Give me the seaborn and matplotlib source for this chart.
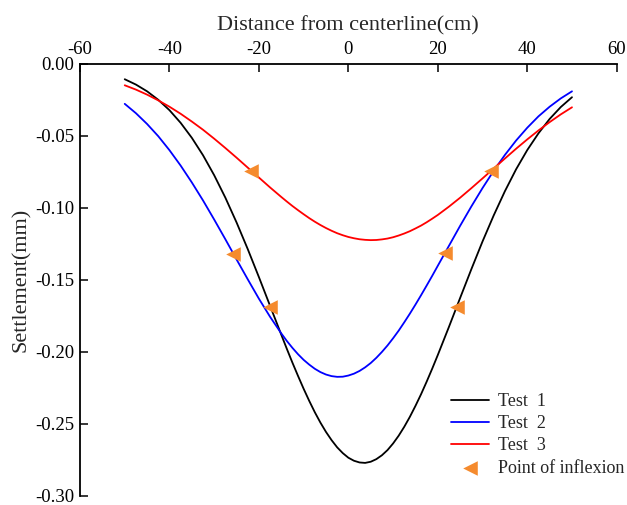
import pandas as pd
import matplotlib
matplotlib.use('Agg')
import matplotlib.pyplot as plt
import seaborn as sns

# distance from centerline (cm); denser around the trough
distance = [-50, -47.5, -45, -42.5, -40, -37.5, -35, -32.5, -30, -27.5, -25, -22.5, -20, -17.5, -15,
            -13.75, -12.5, -11.25, -10, -8.75, -7.5, -6.25, -5, -3.75, -2.5, -1.25, 0, 1.25, 2.5, 3.75,
            5, 6.25, 7.5, 8.75, 10, 11.25, 12.5, 13.75, 15, 16.25, 17.5, 18.75, 20,
            22.5, 25, 27.5, 30, 32.5, 35, 37.5, 40, 42.5, 45, 47.5, 50]

test1 = [-0.0106, -0.0143, -0.0190, -0.0249, -0.0321, -0.0409, -0.0513, -0.0634, -0.0773, -0.0929,
         -0.1101, -0.1286, -0.1481, -0.1681, -0.1881,
         -0.1980, -0.2076, -0.2168, -0.2257, -0.2341, -0.2420, -0.2492, -0.2557, -0.2614, -0.2664,
         -0.2704, -0.2736, -0.2757, -0.2769, -0.2772, -0.2764, -0.2746, -0.2719, -0.2683, -0.2637,
         -0.2583, -0.2521, -0.2452, -0.2376, -0.2295, -0.2208, -0.2117, -0.2022,
         -0.1826, -0.1625, -0.1426, -0.1233, -0.1052, -0.0884, -0.0732, -0.0598, -0.0482, -0.0382,
         -0.0299, -0.0231]

test2 = [-0.0277, -0.0342, -0.0417, -0.0502, -0.0599, -0.0706, -0.0823, -0.0948, -0.1081, -0.1218,
         -0.1358, -0.1496, -0.1631, -0.1757, -0.1872,
         -0.1925, -0.1973, -0.2017, -0.2056, -0.2089, -0.2118, -0.2141, -0.2158, -0.2169, -0.2174,
         -0.2173, -0.2165, -0.2152, -0.2133, -0.2108, -0.2078, -0.2042, -0.2001, -0.1956, -0.1906,
         -0.1853, -0.1795, -0.1735, -0.1672, -0.1607, -0.1540, -0.1472, -0.1402,
         -0.1263, -0.1124, -0.0990, -0.0862, -0.0742, -0.0632, -0.0532, -0.0443, -0.0364, -0.0297,
         -0.0239, -0.0190]

test3 = [-0.0148, -0.0178, -0.0213, -0.0253, -0.0297, -0.0346, -0.0400, -0.0457, -0.0519, -0.0584,
         -0.0651, -0.0720, -0.0789, -0.0858, -0.0924,
         -0.0956, -0.0987, -0.1016, -0.1044, -0.1071, -0.1096, -0.1119, -0.1140, -0.1159, -0.1176,
         -0.1190, -0.1202, -0.1211, -0.1218, -0.1222, -0.1224, -0.1223, -0.1219, -0.1213, -0.1204,
         -0.1192, -0.1178, -0.1162, -0.1143, -0.1123, -0.1100, -0.1075, -0.1049,
         -0.0991, -0.0929, -0.0863, -0.0795, -0.0726, -0.0657, -0.0589, -0.0524, -0.0462, -0.0404,
         -0.0350, -0.0301]

# inflexion points
infl_x = [-17.5, 24.3, -25.7, 21.5, -21.7, 31.9]
infl_y = [-0.1688, -0.1688, -0.1317, -0.1316, -0.0744, -0.0744]

series_names = ['Test  1', 'Test  2', 'Test  3']
line_colors = ['black', 'blue', 'red']

n = len(distance)
df = pd.DataFrame({
    'Distance': distance * 3,
    'Settlement': test1 + test2 + test3,
    'Series': [series_names[0]] * n + [series_names[1]] * n + [series_names[2]] * n,
})
infl = pd.DataFrame({'Distance': infl_x, 'Settlement': infl_y})

sns.set_theme(style='ticks')
plt.rcParams['font.family'] = ['Liberation Serif', 'DejaVu Serif']
plt.rcParams['axes.unicode_minus'] = False

fig = plt.figure(figsize=(6.27, 5.05), dpi=100, facecolor='white')
ax = fig.add_axes([0.1276, 0.0184, 0.856, 0.8549])

sns.lineplot(data=df, x='Distance', y='Settlement', hue='Series', palette=line_colors,
             linewidth=1.3, ax=ax, sort=False)
sns.scatterplot(data=infl, x='Distance', y='Settlement', marker='<', color='#F58B2E',
                s=110, linewidth=0, ax=ax, label='Point of inflexion', zorder=5)

ax.set_xlim(-60, 60)
ax.set_ylim(-0.30, 0.0)
ax.set_xticks([-60, -40, -20, 0, 20, 40, 60])
ax.set_yticks([0.0, -0.05, -0.10, -0.15, -0.20, -0.25, -0.30])
ax.set_yticklabels(['0.00', '-0.05', '-0.10', '-0.15', '-0.20', '-0.25', '-0.30'])

ax.xaxis.tick_top()
ax.xaxis.set_label_position('top')
ax.set_xlabel('Distance from centerline(cm)', fontsize=16, labelpad=8)
ax.set_ylabel('Settlement(mm)', fontsize=16, labelpad=3)
ax.tick_params(direction='in', length=6, width=1.1, labelsize=13.5, colors='black', pad=4)

for side in ['bottom', 'right']:
    ax.spines[side].set_visible(False)
for side in ['top', 'left']:
    ax.spines[side].set_linewidth(1.3)
    ax.spines[side].set_color('black')

ax.legend(loc='upper left', bbox_to_anchor=(451 / 627, 1 - 393 / 505),
          bbox_transform=fig.transFigure, frameon=False, fontsize=13,
          handlelength=2.1, handletextpad=0.5, labelspacing=0.29,
          borderaxespad=0, borderpad=0)

fig.savefig('out.png', dpi=100)
